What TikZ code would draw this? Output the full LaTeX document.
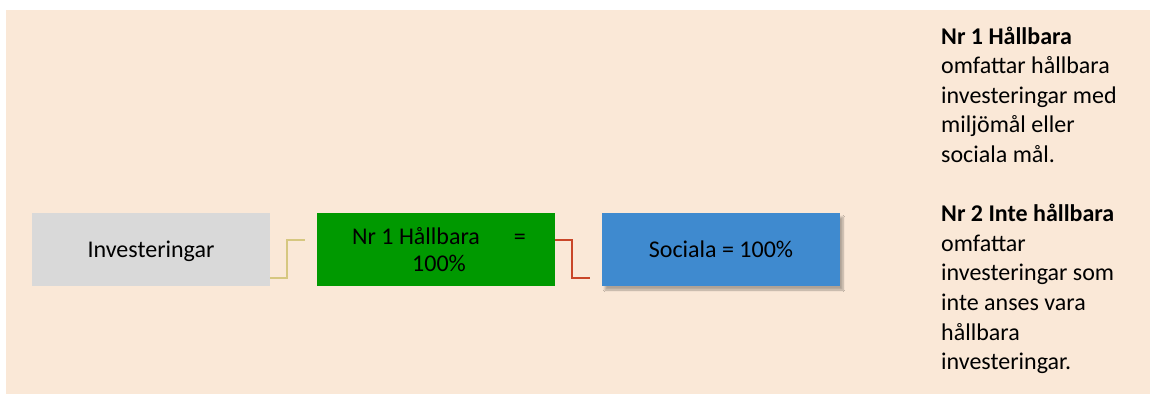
\documentclass[tikz,border=0pt]{standalone}
\usepackage{fontspec}
\setmainfont{Carlito}
\usetikzlibrary{shadows.blur}
\definecolor{bgpeach}{RGB}{250,232,215}
\definecolor{boxgray}{RGB}{217,217,217}
\definecolor{boxgreen}{RGB}{0,153,0}
\definecolor{boxblue}{RGB}{63,138,207}
\definecolor{lineyellow}{RGB}{214,199,128}
\definecolor{linered}{RGB}{201,70,40}
\begin{document}
\begin{tikzpicture}[x=1pt,y=-1pt,
  every node/.style={font=\fontsize{24}{29.6}\selectfont, text=black},
  flatbox/.style={draw=none, minimum width=238pt, minimum height=73pt, inner sep=0pt,
    text height=17pt, text depth=2pt},
  conn/.style={line width=2pt},
]
\useasboundingbox (0,0) rectangle (1150,394);
\fill[bgpeach] (6,10) rectangle (1150,394);

\node[flatbox, fill=boxgray] (inv) at (151,249.5) {Investeringar};
\node[flatbox, fill=boxgreen] (h) at (436,249.5) {};
\node[anchor=base, align=center, inner sep=0pt, font=\fontsize{24}{27}\selectfont] (htxt) at (439,271)
  {Nr 1 Hållbara\hspace{34pt}=\\100\%};
\node[flatbox, fill=boxblue, blur shadow={shadow xshift=3pt, shadow yshift=-4pt, shadow opacity=30, shadow blur steps=6}] (soc) at (721,249.5) {Sociala = 100\%};

\coordinate (yend) at (305,240);
\coordinate (rend) at (590,278);
\draw[conn, lineyellow] ([yshift=8pt]inv.south east) -- ++(17,0) |- (yend);
\draw[conn, linered] ([yshift=-27pt]h.north east) -- ++(17,0) |- (rend);

\node[anchor=base west, inner sep=0pt, text width=205pt, align=flush left] (txt) at (941,44)
  {\textbf{Nr 1 Hållbara}\\
   omfattar hållbara\\
   investeringar med\\
   miljömål eller\\
   sociala mål.\\[29.6pt]
   \textbf{Nr 2 Inte hållbara}\\
   omfattar\\
   investeringar som\\
   inte anses vara\\
   hållbara\\
   investeringar.};
\end{tikzpicture}
\end{document}
